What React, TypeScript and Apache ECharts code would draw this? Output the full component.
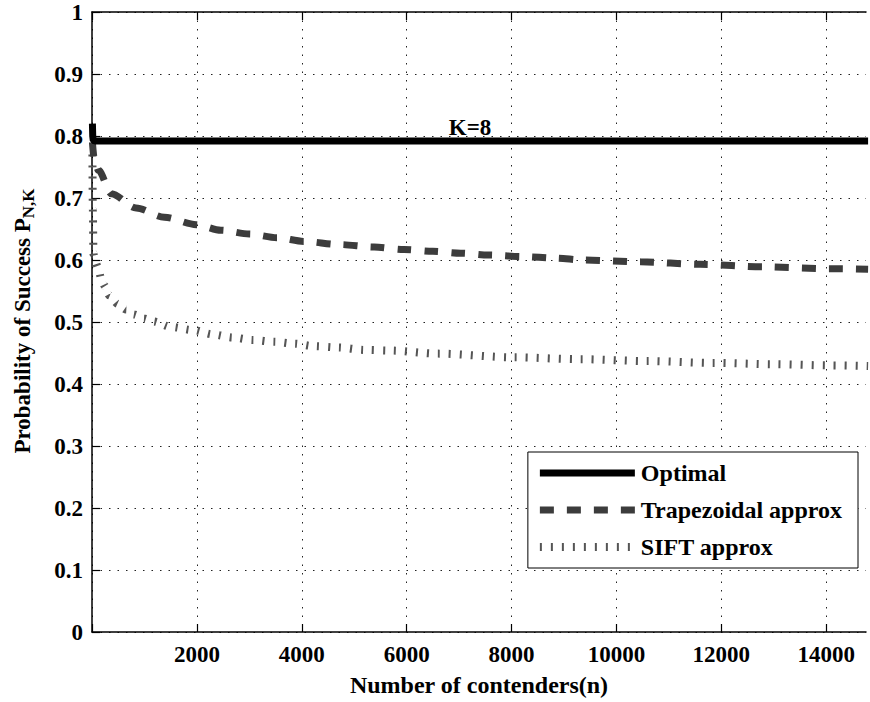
import React, { useEffect, useRef } from "react";
import * as echarts from "echarts";

const xTicks = [2000, 4000, 6000, 8000, 10000, 12000, 14000];
const xTickMarks = [0, 2000, 4000, 6000, 8000, 10000, 12000, 14000];

const optimalN = [8, 14, 24, 60, 200, 14800];
const optimalP = [0.82, 0.80, 0.793, 0.792, 0.792, 0.792];

const trapN = [8, 40, 120, 370, 840, 1380, 1990, 2460, 3000, 3530, 4040, 4710, 5380, 5950, 6500, 7030, 7560, 8210, 8840, 9370, 10460, 11600, 12800, 14080, 14800];
const trapP = [0.79, 0.765, 0.745, 0.707, 0.684, 0.669, 0.657, 0.648, 0.642, 0.636, 0.630, 0.625, 0.621, 0.617, 0.614, 0.611, 0.608, 0.6055, 0.603, 0.600, 0.597, 0.593, 0.589, 0.586, 0.585];

const siftN = [8, 16, 28, 60, 114, 177, 234, 329, 495, 653, 805, 996, 1161, 1510, 1923, 2304, 2685, 3065, 3477, 3858, 4238, 4684, 5190, 5698, 6593, 8040, 9315, 10591, 11847, 12990, 14075, 14800];
const siftP = [0.77, 0.68, 0.61, 0.598, 0.588, 0.570, 0.559, 0.543, 0.529, 0.520, 0.512, 0.5055, 0.501, 0.492, 0.487, 0.480, 0.475, 0.471, 0.468, 0.465, 0.461, 0.459, 0.455, 0.454, 0.449, 0.443, 0.440, 0.437, 0.434, 0.432, 0.430, 0.429];

const seriesNames = ["Optimal", "Trapezoidal approx", "SIFT approx"];
const xName = "Number of contenders(n)";
const yNameMain = "Probability of Success P";
const yNameSub = "N,K";
const annotation = "K=8";

const FONT = "'Liberation Serif', 'Times New Roman', serif";

const zip = (a: number[], b: number[]) => a.map((v, i) => [v, b[i]]);

export default function App() {
  const ref = useRef<HTMLDivElement>(null);
  useEffect(() => {
    document.body.style.margin = "0";
    const chart = echarts.init(ref.current!, null, { renderer: "svg" });
    const labelStyle = { fontFamily: FONT, fontWeight: "bold" as const, fontSize: 23, color: "#000" };
    const bigStyle = { ...labelStyle, fontSize: 24 };
    const axisCommon = {
      axisLine: { show: true, lineStyle: { color: "#000", width: 1.5 } },
      axisTick: { show: true, inside: true, length: 8, lineStyle: { color: "#000", width: 1.2 } },
    };
    const trapStyle = { color: "#3c3c3c", width: 7, type: [14, 13], cap: "butt" };
    const siftStyle = { color: "#555", width: 8, type: [2, 9], cap: "butt" };
    const optStyle = { color: "#000", width: 7, cap: "butt" };
    chart.setOption({
      animation: false,
      backgroundColor: "#fff",
      grid: { left: 92, right: 4, top: 12, bottom: 70 },
      xAxis: [
        {
          type: "value",
          min: 0,
          max: 14760,
          position: "bottom",
          ...axisCommon,
          axisTick: { ...axisCommon.axisTick, customValues: xTickMarks },
          axisLabel: { ...labelStyle, margin: 11, customValues: xTicks, formatter: (v: number) => String(v) },
          splitLine: { show: true, lineStyle: { color: "#222", width: 1, type: [1.5, 7] } },
          name: xName,
          nameLocation: "middle",
          nameGap: 41,
          nameTextStyle: bigStyle,
        },
        {
          type: "value",
          min: 0,
          max: 14760,
          position: "top",
          ...axisCommon,
          axisTick: { ...axisCommon.axisTick, customValues: xTickMarks },
          axisLabel: { show: false },
          splitLine: { show: false },
        },
      ],
      yAxis: {
        type: "value",
        min: 0,
        max: 1,
        interval: 0.1,
        ...axisCommon,
        axisLabel: { ...labelStyle, margin: 9 },
        splitLine: { show: true, lineStyle: { color: "#222", width: 1, type: [1.5, 7] } },
      },
      legend: {
        orient: "vertical",
        right: 12,
        top: 452,
        itemWidth: 95,
        itemHeight: 14,
        itemGap: 13,
        padding: [9, 16, 9, 8],
        borderColor: "#000",
        borderWidth: 1,
        borderRadius: 0,
        backgroundColor: "#fff",
        itemStyle: { opacity: 0 },
        textStyle: { ...bigStyle, padding: [0, 0, 0, 1] },
        data: [
          { name: seriesNames[0], lineStyle: { width: 7 } },
          { name: seriesNames[1], lineStyle: { width: 7 } },
          { name: seriesNames[2], lineStyle: { width: 8 } },
        ],
      },
      graphic: [
        {
          type: "text",
          x: 470,
          y: 127,
          style: {
            text: annotation,
            font: `bold 23px ${FONT}`,
            fill: "#000",
            align: "center",
            verticalAlign: "middle",
          },
          z: 100,
        },
        {
          type: "text",
          x: 22,
          y: 321,
          rotation: Math.PI / 2,
          style: {
            text: `{a|${yNameMain}}{b|${yNameSub}}`,
            align: "center",
            verticalAlign: "middle",
            rich: {
              a: { fontFamily: FONT, fontWeight: "bold", fontSize: 23, fill: "#000", verticalAlign: "middle" },
              b: { fontFamily: FONT, fontWeight: "bold", fontSize: 17, fill: "#000", padding: [13, 0, 0, 0] },
            },
          },
        },
      ],
      series: [
        {
          name: seriesNames[0],
          type: "line",
          data: zip(optimalN, optimalP),
          showSymbol: false,
          symbol: "none",
          lineStyle: optStyle,
          itemStyle: { color: "#000" },
          z: 5,
        },
        {
          name: seriesNames[1],
          type: "line",
          data: zip(trapN, trapP),
          showSymbol: false,
          symbol: "none",
          smooth: 0.3,
          smoothMonotone: "x",
          lineStyle: trapStyle,
          itemStyle: { color: trapStyle.color },
          z: 4,
        },
        {
          name: seriesNames[2],
          type: "line",
          data: zip(siftN, siftP),
          showSymbol: false,
          symbol: "none",
          smooth: 0.3,
          smoothMonotone: "x",
          lineStyle: siftStyle,
          itemStyle: { color: siftStyle.color },
          z: 3,
        },
      ],
    });
    return () => chart.dispose();
  }, []);
  return <div ref={ref} style={{ width: 870, height: 702, position: "absolute", left: 0, top: 0 }} />;
}
